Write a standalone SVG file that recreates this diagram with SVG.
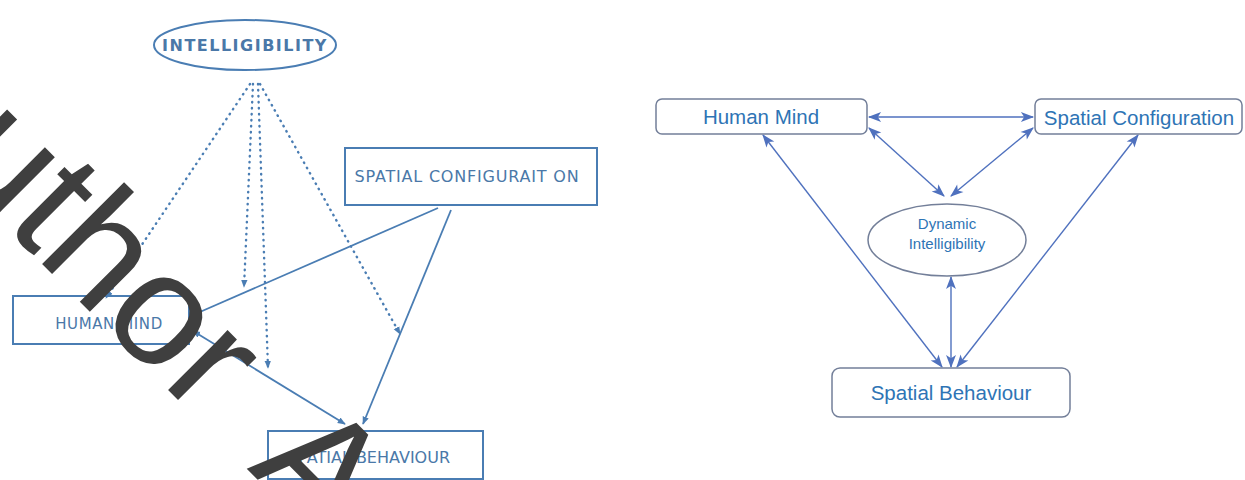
<svg xmlns="http://www.w3.org/2000/svg" width="1245" height="480" viewBox="0 0 1245 480">
<defs>
<style>
.lbox{fill:none;stroke:#4a7db3;stroke-width:2}
.ltxt{font-family:"DejaVu Sans","Liberation Sans",sans-serif;fill:#4a78a8;text-anchor:middle}
.ldot{fill:none;stroke:#4a7db3;stroke-width:2.4;stroke-dasharray:0.5 5.5;stroke-linecap:round}
.lsol{fill:none;stroke:#4a7db3;stroke-width:1.8}
.rbox{fill:#fff;stroke:#737f99;stroke-width:1.5}
.rtxt{font-family:"Liberation Sans","Noto Sans",sans-serif;fill:#2e74b5;text-anchor:middle}
.rline{fill:none;stroke:#4f71be;stroke-width:1.4}
.wm{font-family:"Liberation Sans",Arial,sans-serif;font-size:160px;fill:#3f3f3f}
</style>
<marker id="la" viewBox="0 0 10 10" refX="9" refY="5" markerWidth="8" markerHeight="8" markerUnits="userSpaceOnUse" orient="auto-start-reverse"><path d="M0,1 L10,5 L0,9 Z" fill="#4a7db3"/></marker>
<marker id="ra" viewBox="0 0 12 10" refX="11" refY="5" markerWidth="15" markerHeight="11" markerUnits="userSpaceOnUse" orient="auto-start-reverse"><path d="M0,0.5 L12,5 L0,9.5 L3,5 Z" fill="#4f71be"/></marker>
</defs>
<rect width="1245" height="480" fill="#fff"/>

<g id="left-connectors">
<path class="ldot" d="M250,84 L106,298" marker-end="url(#la)"/>
<path class="ldot" d="M253,84 L244,287" marker-end="url(#la)"/>
<path class="ldot" d="M258,84 L268,368" marker-end="url(#la)"/>
<path class="ldot" d="M260,84 L400,334" marker-end="url(#la)"/>
<path class="lsol" d="M438,208 L193,315" marker-end="url(#la)"/>
<path class="lsol" d="M451,210 L363,424" marker-end="url(#la)"/>
<path class="lsol" d="M193,331 L345,424" marker-start="url(#la)" marker-end="url(#la)"/>
</g>

<g id="intelligibility">
<ellipse cx="245" cy="45" rx="91" ry="25" fill="none" stroke="#4a7db3" stroke-width="2"/>
<text class="ltxt" x="245" y="51" font-size="16" font-weight="bold" letter-spacing="1.5">INTELLIGIBILITY</text>
</g>
<g id="spatial-configuraiton">
<rect class="lbox" x="345" y="148" width="252" height="57"/>
<text class="ltxt" x="467" y="182" font-size="16" letter-spacing="0.8">SPATIAL CONFIGURAIT ON</text>
</g>
<g id="human-mind-left">
<rect class="lbox" x="13" y="296" width="176" height="48"/>
<text class="ltxt" x="109" y="329" font-size="15" letter-spacing="0.6">HUMAN MIND</text>
</g>
<g id="spatial-behaviour-left">
<rect class="lbox" x="268" y="431" width="215" height="48"/>
<text class="ltxt" x="369" y="463" font-size="16">SPATIAL BEHAVIOUR</text>
</g>

<g id="right-connectors">
<path class="rline" d="M869,117 L1033,117" marker-start="url(#ra)" marker-end="url(#ra)"/>
<path class="rline" d="M869,128 L944,196" marker-start="url(#ra)" marker-end="url(#ra)"/>
<path class="rline" d="M1033,128 L951,196" marker-start="url(#ra)" marker-end="url(#ra)"/>
<path class="rline" d="M763,135 L942,367" marker-start="url(#ra)" marker-end="url(#ra)"/>
<path class="rline" d="M1138,135 L957,367" marker-start="url(#ra)" marker-end="url(#ra)"/>
<path class="rline" d="M951,277 L951,367" marker-start="url(#ra)" marker-end="url(#ra)"/>
</g>

<g id="human-mind">
<rect class="rbox" x="656" y="99" width="211" height="35" rx="6"/>
<text class="rtxt" x="761" y="124" font-size="20.5">Human Mind</text>
</g>
<g id="spatial-configuration">
<rect class="rbox" x="1035" y="99" width="207" height="35" rx="6"/>
<text class="rtxt" x="1139" y="125" font-size="20.5">Spatial Configuration</text>
</g>
<g id="dynamic-intelligibility">
<ellipse cx="947" cy="240" rx="79" ry="36" fill="#fff" stroke="#737f99" stroke-width="1.5"/>
<text class="rtxt" x="947" y="229" font-size="15">Dynamic</text>
<text class="rtxt" x="947" y="249" font-size="15">Intelligibility</text>
</g>
<g id="spatial-behaviour">
<rect class="rbox" x="832" y="368" width="238" height="49" rx="8"/>
<text class="rtxt" x="951" y="400" font-size="20.5">Spatial Behaviour</text>
</g>

<g id="watermark">
<text class="wm" transform="translate(-60,162) rotate(45)" word-spacing="33">uthor A</text>
</g>
</svg>
